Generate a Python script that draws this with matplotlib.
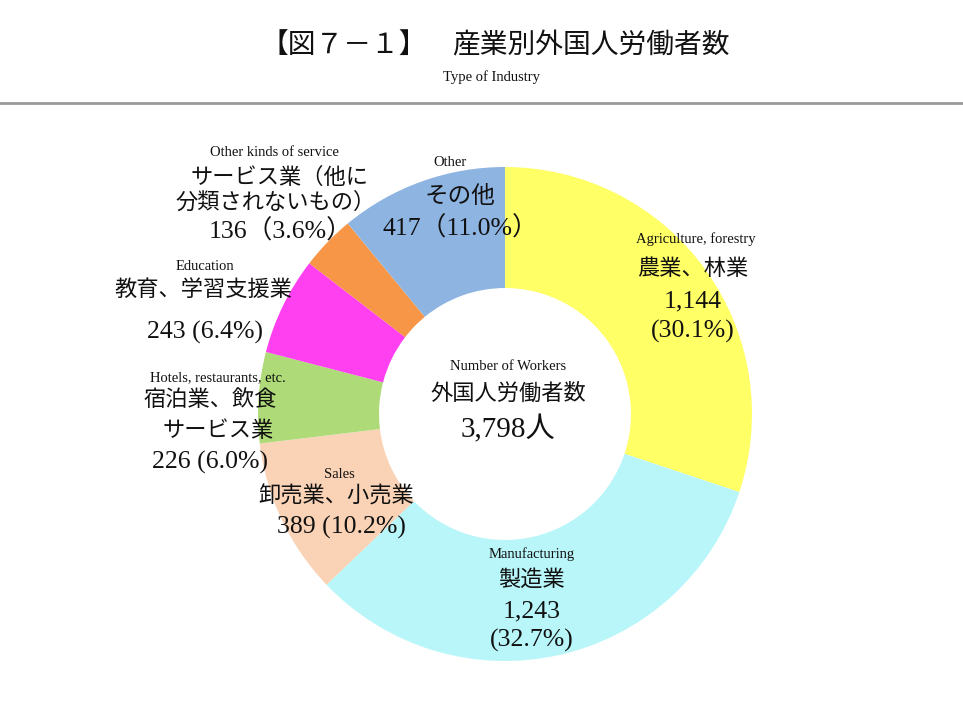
import matplotlib
matplotlib.use("Agg")
from matplotlib import pyplot as plt

# data
en_names = ["Agriculture, forestry", "Manufacturing", "Sales",
            "Hotels, restaurants, etc.", "Education",
            "Other kinds of service", "Other"]
jp_names = [["農業、林業"], ["製造業"], ["卸売業、小売業"], ["宿泊業、飲食", "サービス業"],
            ["教育、学習支援業"], ["サービス業（他に", "分類されないもの）"], ["その他"]]
workers = [1144, 1243, 389, 226, 243, 136, 417]
colors = ["#FFFF66", "#B8F6F9", "#FAD3B6", "#AEDB78", "#FF40F0", "#F79646", "#8EB4E2"]
total = sum(workers)

JP = ["Liberation Serif", "Noto Sans CJK JP"]
EN = ["Liberation Serif"]

fig = plt.figure(figsize=(9.63, 7.2), dpi=100)
ax = fig.add_axes([0, 0, 1, 1])

H = 720
cx, cy, R = 505, H - 414, 247
ax.pie(workers, colors=colors, startangle=90, counterclock=False,
       center=(cx, cy), radius=R, wedgeprops=dict(width=R * 0.49, linewidth=0))
ax.set_xlim(0, 963)
ax.set_ylim(0, H)
ax.set_aspect("equal")
ax.axis("off")

def t(x, y, s, size, fam=JP, **kw):
    ax.text(x, H - y, s, fontsize=size, family=fam, ha="center", va="center",
            color="#111111", **kw)

# title
t(344, 46, "【図７－１】", 20)
t(591, 46, "産業別外国人労働者数", 20)
t(491, 77, "Type of Industry", 10.5, EN)
ax.plot([0, 963], [H - 103, H - 103], color="#999999", lw=2)

def pct(v):
    return 100 * v / total

# label layout: english pos, jp line positions, value line positions
en_pos = [(696, 239), (532, 554), (339, 474), (218, 378), (205, 267), (274, 152), (450, 162)]
jp_pos = [[(693, 270)], [(532, 580)], [(336, 497)], [(210, 401), (218, 432)],
          [(203, 290)], [(280, 178), (276, 203)], [(460, 197)]]
val_pos = [[(693, 301), (693, 331)], [(532, 611), (532, 640)], [(341, 527)], [(210, 462)],
           [(205, 332)], [(281, 231)], [(460, 228)]]

for i in range(len(workers)):
    v = workers[i]
    if i < 2:
        vals = ["{:,}".format(v), "({:.1f}%)".format(pct(v))]
    elif i < 5:
        vals = ["{} ({:.1f}%)".format(v, pct(v))]
    else:
        vals = ["{}（{:.1f}%）".format(v, pct(v))]
    t(en_pos[i][0], en_pos[i][1], en_names[i], 10.5, EN)
    for s, p in zip(jp_names[i], jp_pos[i]):
        t(p[0], p[1], s, 17 if i == 6 else 16)
    for s, p in zip(vals, val_pos[i]):
        t(p[0], p[1], s, 18.5)

# center
t(508, 367, "Number of Workers", 10.5, EN)
t(508, 394, "外国人労働者数", 16)
t(508, 429, "{:,}人".format(total), 21)

fig.savefig("out.png", dpi=100)
